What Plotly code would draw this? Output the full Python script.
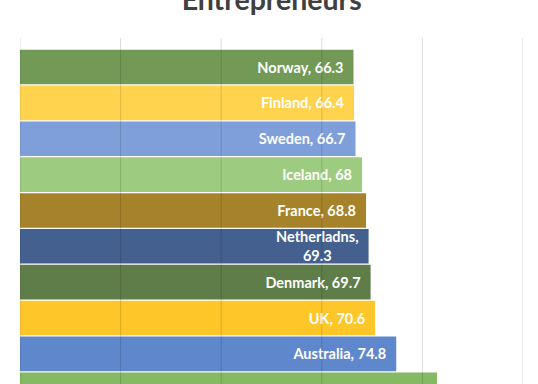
import plotly.graph_objects as go

countries = ["Norway", "Finland", "Sweden", "Iceland", "France", "Netherladns",
             "Denmark", "UK", "Australia", "USA"]
values = [66.3, 66.4, 66.7, 68, 68.8, 69.3, 69.7, 70.6, 74.8, 82.9]
colors = ["#729A56", "#FFD34E", "#7E9FD9", "#9DCB7F", "#A6832A", "#44608E",
          "#5E7D48", "#FFC62A", "#5F87CB", "#86B964"]
x_ticks = [0, 20, 40, 60, 80, 100]
title_text = "Entrepreneurs"

pad = "\u00a0\u00a0"
labels = []
for c, v in zip(countries, values):
    if len(c) > 10:
        labels.append(f"{c},{pad}<br>{v:g}{pad}")
    else:
        labels.append(f"{c}, {v:g}{pad}")

fig = go.Figure(go.Bar(
    y=countries, x=values, orientation="h",
    marker=dict(color=colors, line=dict(width=0)),
    text=labels, textposition="inside", insidetextanchor="end",
    constraintext="none",
    textfont=dict(family="Lato", size=14.5, color="white", weight="bold"),
    hoverinfo="skip",
))

for t in x_ticks:
    fig.add_shape(type="line", xref="x", yref="paper", x0=t, x1=t, y0=0, y1=1,
                  layer="above", line=dict(color="rgba(0,0,0,0.14)", width=1))

fig.update_layout(
    width=538, height=384,
    margin=dict(l=20, r=15, t=38, b=0),
    paper_bgcolor="white", plot_bgcolor="white",
    bargap=0.035, showlegend=False,
    title=dict(text=title_text, x=0.505, xanchor="center", yref="container",
               y=1.0, yanchor="middle",
               font=dict(family="Lato", size=28.5, color="#404040", weight="bold")),
    xaxis=dict(range=[0, 100], tickvals=x_ticks, showgrid=False, zeroline=False,
               showticklabels=False, showline=False, fixedrange=True),
    yaxis=dict(range=[8.84, -0.81], showgrid=False, showticklabels=False,
               showline=False, zeroline=False, fixedrange=True),
)

fig.write_html(
    "out.html",
    config={"displayModeBar": False},
    post_script="document.body.style.margin='0';document.body.style.overflow='hidden';",
)
